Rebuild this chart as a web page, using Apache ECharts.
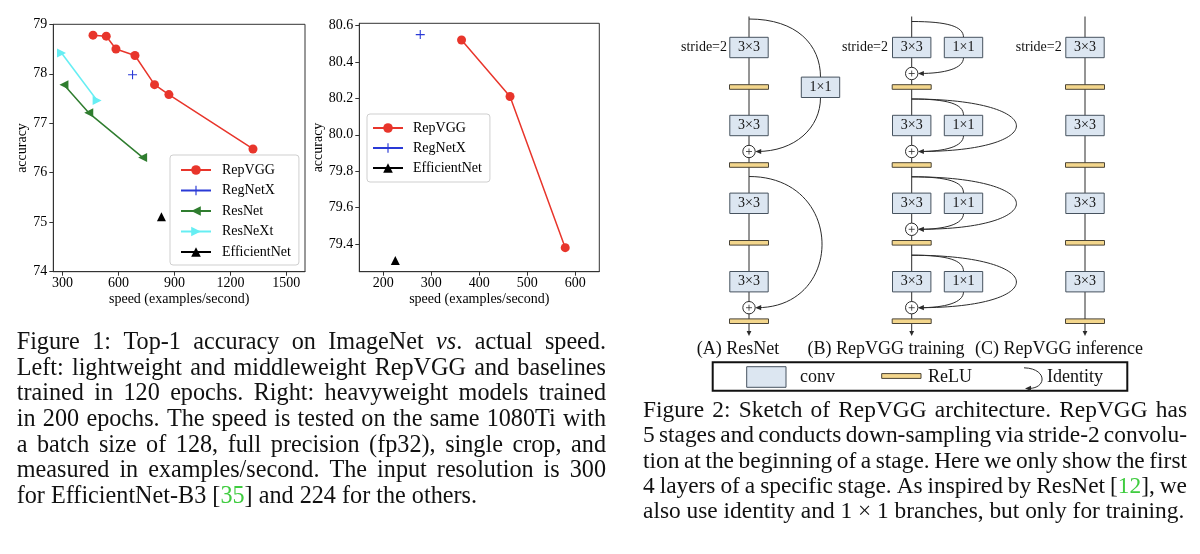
<!DOCTYPE html>
<html><head><meta charset="utf-8">
<script src="https://cdn.jsdelivr.net/npm/echarts@6/dist/echarts.min.js"></script>
<style>html,body{margin:0;padding:0;background:#fff}#c{width:1200px;height:554px}</style>
</head><body><div id="c"></div>
<script>
// ---------- data ----------
// Left chart: lightweight / middleweight, 120 epochs
const repvggLeftSpeed = [463, 534, 586, 688, 793, 870, 1321];
const repvggLeftAcc   = [78.78, 78.76, 78.50, 78.37, 77.78, 77.58, 76.48];
const regnetLeftSpeed = [675];
const regnetLeftAcc   = [77.98];
const resnetSpeed     = [307, 440, 729];
const resnetAcc       = [77.78, 77.21, 76.31];
const resnextSpeed    = [294, 485];
const resnextAcc      = [78.42, 77.46];
const effLeftSpeed    = [830];
const effLeftAcc      = [75.11];
// Right chart: heavyweight, 200 epochs
const repvggRightSpeed = [363, 464, 579];
const repvggRightAcc   = [80.52, 80.21, 79.38];
const regnetRightSpeed = [277];
const regnetRightAcc   = [80.55];
const effRightSpeed    = [225];
const effRightAcc      = [79.31];
// tick labels
const leftXTicks  = [300, 600, 900, 1200, 1500];
const leftYTicks  = [74, 75, 76, 77, 78, 79];
const rightXTicks = [200, 300, 400, 500, 600];
const rightYTicks = [79.4, 79.6, 79.8, 80.0, 80.2, 80.4, 80.6];
const leftLegend  = ['RepVGG', 'RegNetX', 'ResNet', 'ResNeXt', 'EfficientNet'];
const rightLegend = ['RepVGG', 'RegNetX', 'EfficientNet'];

const cap1Lines = [
  'Figure 1: Top-1 accuracy on ImageNet {i|vs}. actual speed.',
  'Left: lightweight and middleweight RepVGG and baselines',
  'trained in 120 epochs. Right: heavyweight models trained',
  'in 200 epochs. The speed is tested on the same 1080Ti with',
  'a batch size of 128, full precision (fp32), single crop, and',
  'measured in examples/second. The input resolution is 300',
  'for EfficientNet-B3 [{g|35}] and 224 for the others.'
];
const cap2Lines = [
  'Figure 2: Sketch of RepVGG architecture. RepVGG has',
  '5 stages and conducts down-sampling via stride-2 convolu-',
  'tion at the beginning of a stage. Here we only show the first',
  '4 layers of a specific stage. As inspired by ResNet [{g|12}], we',
  'also use identity and 1 × 1 branches, but only for training.'
];
const columnLabels = ['(A) ResNet', '(B) RepVGG training', '(C) RepVGG inference'];

// ---------- styling ----------
const SERIF = 'Liberation Serif';
const RED = '#e8352b', BLUE = '#2a3ad6', GREEN = '#2f7d2f', CYAN = '#66eef3', BLACK = '#000';
const AX = '#333';
const plusPath = 'path://M4.4,0H5.6V4.4H10V5.6H5.6V10H4.4V5.6H0V4.4H4.4Z';

function pts(xs, ys) { return xs.map((x, i) => [x, ys[i]]); }
function ser(name, xs, ys, color, symbol, rot, idx, size) {
  return {
    type: 'line', name, xAxisIndex: idx, yAxisIndex: idx, data: pts(xs, ys),
    symbol, symbolSize: size, symbolRotate: rot, showSymbol: true, showAllSymbol: true,
    lineStyle: { color, width: 1.5 }, itemStyle: { color, borderWidth: 0 },
    emphasis: { disabled: true }, silent: true
  };
}
function xAx(grid, min, max, ticks, nameGap) {
  return {
    gridIndex: grid, type: 'value', min, max,
    name: 'speed (examples/second)', nameLocation: 'middle', nameGap,
    nameTextStyle: { fontFamily: SERIF, fontSize: 14, color: '#000' },
    axisLine: { show: true, onZero: false, lineStyle: { color: AX } },
    axisTick: { show: true, inside: false, length: 4, customValues: ticks, lineStyle: { color: AX } },
    axisLabel: { customValues: ticks, margin: 5, fontFamily: SERIF, fontSize: 14, color: '#000',
                 formatter: v => String(v) },
    splitLine: { show: false }
  };
}
function yAx(grid, min, max, ticks, nameGap, dec) {
  return {
    gridIndex: grid, type: 'value', min, max,
    name: 'accuracy', nameLocation: 'middle', nameGap,
    nameTextStyle: { fontFamily: SERIF, fontSize: 14, color: '#000' },
    axisLine: { show: true, onZero: false, lineStyle: { color: AX } },
    axisTick: { show: true, inside: false, length: 4, customValues: ticks, lineStyle: { color: AX } },
    axisLabel: { customValues: ticks, margin: 6, fontFamily: SERIF, fontSize: 14, color: '#000',
                 formatter: v => v.toFixed(dec) },
    splitLine: { show: false }
  };
}
function legend(data, left, top, padding, gap, textPad) {
  return {
    data, orient: 'vertical', left, top, padding, itemGap: gap, itemWidth: 30, itemHeight: 12,
    borderColor: '#cfcfcf', borderWidth: 1, borderRadius: 3, backgroundColor: '#fff',
    selectedMode: false,
    textStyle: { fontFamily: SERIF, fontSize: 14, color: '#000', lineHeight: 12, padding: [0, 0, 0, textPad] }
  };
}

// ---------- diagram (graphic elements) ----------
const G = [];
const LINE = '#2b2b2b', CONV_FILL = '#dce6f1', CONV_STROKE = '#47535f', RELU_FILL = '#f3d68c', RELU_STROKE = '#4a4436';
function gText(x, y, text, size, align, extra) {
  G.push(Object.assign({ type: 'text', x, y, silent: true, z: 30,
    style: Object.assign({ text, fontFamily: SERIF, fontSize: size, fill: '#111', align: align || 'center', verticalAlign: 'middle' }, extra || {}) }));
}
function gRect(x, y, w, h, fill, stroke, lw, z) {
  G.push({ type: 'rect', silent: true, z: z || 20, shape: { x, y, width: w, height: h }, style: { fill, stroke, lineWidth: lw || 1 } });
}
function gLine(x1, y1, x2, y2, lw, z) {
  G.push({ type: 'line', silent: true, z: z || 10, shape: { x1, y1, x2, y2 }, style: { stroke: LINE, lineWidth: lw || 1 } });
}
function gBez(x1, y1, cpx1, cpy1, cpx2, cpy2, x2, y2) {
  G.push({ type: 'bezierCurve', silent: true, z: 10, shape: { x1, y1, x2, y2, cpx1, cpy1, cpx2, cpy2 }, style: { stroke: LINE, lineWidth: 1, fill: null } });
}
function gArrowLeft(tx, ty) {
  G.push({ type: 'polygon', silent: true, z: 25, shape: { points: [[tx, ty], [tx + 6, ty - 2.6], [tx + 6, ty + 2.6]] }, style: { fill: LINE } });
}
function gArrowDown(tx, ty) {
  G.push({ type: 'polygon', silent: true, z: 25, shape: { points: [[tx, ty], [tx - 2.4, ty - 5], [tx + 2.4, ty - 5]] }, style: { fill: LINE } });
}
function conv(cx, cy, label) {
  gRect(cx - 19.2, cy - 10.2, 38.4, 20.4, CONV_FILL, CONV_STROKE, 1);
  gText(cx, cy, label, 14);
}
function relu(cx, cy) { gRect(cx - 19.5, cy - 2.3, 39, 4.6, RELU_FILL, RELU_STROKE, 1); }
function plus(cx, cy) {
  G.push({ type: 'circle', silent: true, z: 22, shape: { cx, cy, r: 6.2 }, style: { fill: '#fff', stroke: LINE, lineWidth: 1 } });
  gLine(cx - 3, cy, cx + 3, cy, 0.8, 23);
  gLine(cx, cy - 3, cx, cy + 3, 0.8, 23);
}
const CY = [47.5, 125.5, 203.3, 281.7];
const XA = 749, XB = 911.7, XB1 = 963.5, XC = 1085;

[XA, XB, XC].forEach(x => { gLine(x, 16.5, x, 331); gArrowDown(x, 336); });
[[XA, 727], [XB, 888], [XC, 1061.7]].forEach(([x, sx]) => {
  gText(sx, 47.5, 'stride=2', 14, 'right');
  CY.forEach(c => { conv(x, c, '3×3'); relu(x, c + 39.5); });
});
// (A) ResNet shortcuts
plus(XA, CY[1] + 26); plus(XA, CY[3] + 26);
conv(820.5, 87.3, '1×1');
gBez(XA, 19, 797, 19, 820.5, 45, 820.5, 77.1);
gBez(820.5, 97.5, 820.5, 128, 795, 151.5, 757, CY[1] + 26);
gArrowLeft(755.2, CY[1] + 26);
gBez(XA, 176.5, 845, 176.5, 845, CY[3] + 26, 757, CY[3] + 26);
gArrowLeft(755.2, CY[3] + 26);
// (B) RepVGG training branches
CY.forEach((c, i) => {
  conv(XB1, c, '1×1');
  plus(XB, c + 26);
  const by = i === 0 ? 21.5 : c - 26.5;
  gBez(XB, by, 948, by, XB1, by + 5, XB1, c - 10.2);
  if (i > 0) gBez(XB, by, 1050, by, 1050, c + 26, 919.5, c + 26);
  gBez(XB1, c + 10.2, XB1, c + 21, 945, c + 26, 919.5, c + 26);
  gArrowLeft(917.9, c + 26);
});
// column labels
gText(738, 349, columnLabels[0], 18);
gText(886, 349, columnLabels[1], 18);
gText(1059, 349, columnLabels[2], 18);
// diagram legend
gRect(712.7, 362.3, 414.6, 28.4, 'rgba(0,0,0,0)', '#111', 2, 5);
gRect(746.7, 366.7, 39.3, 20.6, CONV_FILL, CONV_STROKE, 1);
gText(800, 377, 'conv', 18, 'left');
gRect(881.7, 373.6, 39.3, 4.8, RELU_FILL, RELU_STROKE, 1);
gText(928, 377, 'ReLU', 18, 'left');
gBez(1024, 367.8, 1047, 368.5, 1047, 387.5, 1030, 388.4);
gArrowLeft(1025, 388.4);
gText(1047, 377, 'Identity', 18, 'left');

// ---------- captions (justified, word by word) ----------
const mctx = document.createElement('canvas').getContext('2d');
function parseWord(w) {
  const out = []; const re = /\{([ig])\|([^}]*)\}/g; let last = 0, m;
  while ((m = re.exec(w))) {
    if (m.index > last) out.push({ t: w.slice(last, m.index) });
    out.push({ t: m[2], i: m[1] === 'i', g: m[1] === 'g' });
    last = re.lastIndex;
  }
  if (last < w.length) out.push({ t: w.slice(last) });
  return out;
}
function measure(seg, size) {
  mctx.font = (seg.i ? 'italic ' : '') + size + 'px "' + SERIF + '"';
  return mctx.measureText(seg.t).width;
}
function caption(lines, x0, x1, base0, lh, size) {
  lines.forEach((line, li) => {
    const words = line.split(' ').map(parseWord);
    const widths = words.map(ss => ss.reduce((a, s) => a + measure(s, size), 0));
    const total = widths.reduce((a, b) => a + b, 0);
    const lastLine = li === lines.length - 1;
    const gap = lastLine ? measure({ t: ' ' }, size) : (x1 - x0 - total) / (words.length - 1);
    const y = base0 + li * lh - 0.34 * size;
    let x = x0;
    words.forEach(ss => {
      ss.forEach(s => {
        gText(x, y, s.t, size, 'left', { fill: s.g ? '#3fcc3f' : '#111', fontStyle: s.i ? 'italic' : 'normal' });
        x += measure(s, size);
      });
      x += gap;
    });
  });
}
caption(cap1Lines, 16.7, 606, 351, 25.6, 24.2);
caption(cap2Lines, 643, 1187, 419, 25.2, 23.4);

// ---------- chart ----------
const chart = echarts.init(document.getElementById('c'), null, { renderer: 'canvas' });
chart.setOption({
  animation: false,
  backgroundColor: '#fff',
  grid: [
    { left: 53.3, top: 24.3, width: 251.7, height: 247.4, show: true, borderColor: AX, borderWidth: 1, backgroundColor: 'transparent' },
    { left: 359.3, top: 23.3, width: 240, height: 248.4, show: true, borderColor: AX, borderWidth: 1, backgroundColor: 'transparent' }
  ],
  xAxis: [xAx(0, 250, 1600, leftXTicks, 21), xAx(1, 150, 650, rightXTicks, 21)],
  yAxis: [yAx(0, 74, 79, leftYTicks, 18, 0), yAx(1, 79.248, 80.612, rightYTicks, 33, 1)],
  legend: [
    legend(leftLegend, 170, 155, [8, 8, 6, 10], 6.5, 6),
    legend(rightLegend, 367, 114, [7, 8, 7, 5], 6, 5)
  ],
  series: [
    ser('RepVGG', repvggLeftSpeed, repvggLeftAcc, RED, 'circle', 0, 0, 9),
    ser('RegNetX', regnetLeftSpeed, regnetLeftAcc, BLUE, plusPath, 0, 0, 9),
    ser('ResNet', resnetSpeed, resnetAcc, GREEN, 'triangle', 90, 0, 9),
    ser('ResNeXt', resnextSpeed, resnextAcc, CYAN, 'triangle', -90, 0, 9),
    ser('EfficientNet', effLeftSpeed, effLeftAcc, BLACK, 'triangle', 0, 0, 9),
    ser('RepVGG', repvggRightSpeed, repvggRightAcc, RED, 'circle', 0, 1, 9),
    ser('RegNetX', regnetRightSpeed, regnetRightAcc, BLUE, plusPath, 0, 1, 9),
    ser('EfficientNet', effRightSpeed, effRightAcc, BLACK, 'triangle', 0, 1, 9)
  ],
  graphic: { elements: G }
});
</script>
</body></html>
